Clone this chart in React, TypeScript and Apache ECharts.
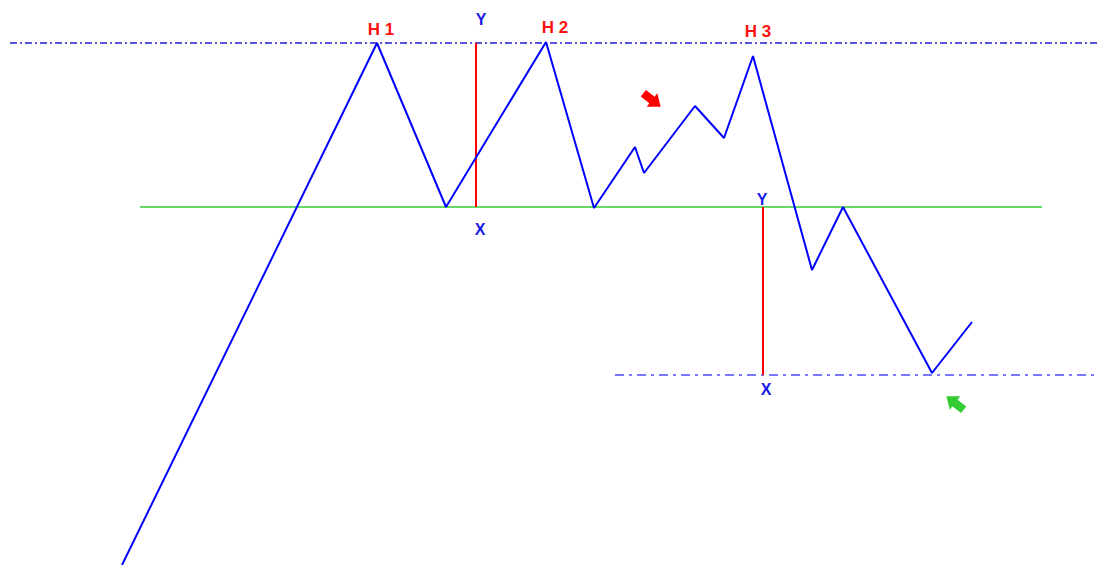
import React, { useEffect, useRef } from "react";
import * as echarts from "echarts";

// Price path (x, y) in chart units
const pricePath: number[][] = [
  [122, 0], [377, 522], [446, 358], [546, 523], [594, 357], [635, 418], [644, 392],
  [695, 459], [724, 427], [753, 509], [812, 295], [843, 358], [932, 192], [972, 243],
];
const topLine: number[][] = [[10, 522], [1099, 522]];
const neckLine: number[][] = [[140, 358], [1042, 358]];
const targetLine: number[][] = [[615, 190], [1099, 190]];
const measure1: number[][] = [[476, 358], [476, 522]];
const measure2: number[][] = [[763, 190], [763, 358]];
const redLabels = [
  { name: "H 1", value: [381, 536] },
  { name: "H 2", value: [555, 538] },
  { name: "H 3", value: [758, 534] },
];
const blueLabels = [
  { name: "Y", value: [481, 546] },
  { name: "X", value: [480, 336] },
  { name: "Y", value: [762, 366] },
  { name: "X", value: [766, 176] },
];
const redArrow = [[652, 465]];
const greenArrow = [[955, 162]];

const arrowPath = "path://M0,2.5 L5,2.5 L5,0 L10,5 L5,10 L5,7.5 L0,7.5 Z";

export default function App() {
  const ref = useRef<HTMLDivElement>(null);
  useEffect(() => {
    document.body.style.margin = "0";
    const chart = echarts.init(ref.current!, null, { renderer: "svg" });
    const seg = (data: number[][], color: string, width: number, type: any = "solid") => ({
      type: "line",
      data,
      symbol: "none",
      lineStyle: { color, width, type },
      silent: true,
      z: 2,
    });
    const labelSeries = (data: any[], color: string, fontSize: number) => ({
      type: "scatter",
      data,
      symbolSize: 0,
      itemStyle: { opacity: 1 },
      label: {
        show: true,
        position: "inside",
        formatter: "{b}",
        color,
        fontSize,
        fontWeight: "bold",
        fontFamily: "Liberation Sans",
      },
      z: 5,
    });
    chart.setOption({
      animation: false,
      backgroundColor: "#ffffff",
      grid: { left: 0, right: 0, top: 0, bottom: 0 },
      xAxis: { type: "value", min: 0, max: 1099, show: false },
      yAxis: { type: "value", min: 0, max: 565, show: false },
      series: [
        seg(topLine, "#1e1ec8", 1.5, [7, 3, 2, 3]),
        seg(neckLine, "#33cc33", 1.5),
        seg(targetLine, "#4a4aff", 1.5, [9, 5, 3, 5]),
        seg(measure1, "#ff0000", 2),
        seg(measure2, "#ff0000", 2),
        { ...seg(pricePath, "#0000ff", 2), z: 3 },
        labelSeries(redLabels, "#ff1010", 17),
        labelSeries(blueLabels, "#1a1ae6", 16),
        {
          type: "scatter",
          data: redArrow,
          symbol: arrowPath,
          symbolSize: [22, 17],
          symbolRotate: -38,
          itemStyle: { color: "#ff0000", opacity: 1 },
        },
        {
          type: "scatter",
          data: greenArrow,
          symbol: arrowPath,
          symbolSize: [22, 17],
          symbolRotate: 142,
          itemStyle: { color: "#33cc33", opacity: 1 },
        },
      ],
    });
    return () => chart.dispose();
  }, []);
  return <div ref={ref} style={{ width: 1099, height: 565 }} />;
}
